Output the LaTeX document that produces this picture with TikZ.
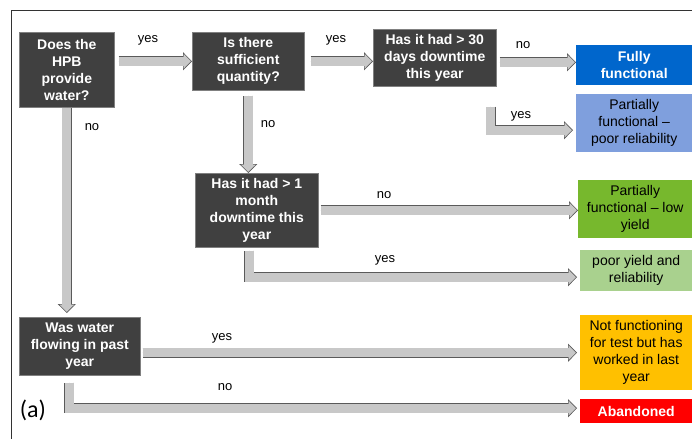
\documentclass[tikz,border=0pt]{standalone}
\usepackage{fontspec}
\setmainfont{Liberation Sans}
\newfontfamily\panelfont{Carlito}
\usetikzlibrary{arrows.meta}
\definecolor{boxgray}{HTML}{404040}
\definecolor{arrowfill}{HTML}{C8C8C8}
\definecolor{arrowedge}{HTML}{5A5A5A}
\definecolor{fullblue}{HTML}{0066CC}
\definecolor{partblue}{HTML}{7F9FDD}
\definecolor{lowgreen}{HTML}{77B82D}
\definecolor{palegreen}{HTML}{A9D18E}
\definecolor{notorange}{HTML}{FFC000}
\definecolor{abandred}{HTML}{FF0000}
\begin{document}
\begin{tikzpicture}[x=1pt,y=-1pt,
  question/.style={fill=boxgray, draw=gray, line width=0.6pt, text=white,
    font=\fontsize{14}{17}\selectfont\bfseries, align=center, anchor=north west, inner sep=0pt},
  outcome/.style={fill=#1, align=center, anchor=north west, inner sep=0pt,
    font=\fontsize{14}{17}\selectfont},
  lbl/.style={font=\fontsize{13}{15}\selectfont},
  flow/.style={
    preaction={draw=arrowedge, line width=0.6pt, shorten <=#1, shorten >=0pt,
      -{Triangle[width=18pt,length=9pt,fill=arrowfill]}},
    preaction={draw=arrowedge, line width=10.2pt, shorten <=#1, shorten >=9pt},
    draw=arrowfill, line width=9pt, shorten <=#1+0.6pt, shorten >=8pt},
  flow/.default=0pt]
\useasboundingbox (0,0) rectangle (692,439);
% frame
\draw[line width=1pt, black!80] (692,10) -- (11,10) -- (11,439);

% questions
\node[question, minimum width=95pt, minimum height=75pt] (hpb) at (19,32) {Does the\\HPB\\provide\\water?};
\node[question, minimum width=112pt, minimum height=58pt] (quantity) at (192,32) {Is there\\sufficient\\quantity?};
\node[question, minimum width=123pt, minimum height=57pt] (downtime) at (373,29) {Has it had > 30\\days downtime\\this year};
\node[question, minimum width=123pt, minimum height=74pt] (month) at (195,173) {Has it had > 1\\month\\downtime this\\year};
\node[question, minimum width=121pt, minimum height=58pt] (flowing) at (19,317) {Was water\\flowing in past\\year};

% outcomes
\node[outcome=fullblue, text=white, font=\fontsize{14}{17}\selectfont\bfseries, minimum width=116pt, minimum height=40pt] (fully) at (576,45) {Fully\\functional};
\node[outcome=partblue, minimum width=116pt, minimum height=58pt] (poorrel) at (576,94) {Partially\\functional --\\poor reliability};
\node[outcome=lowgreen, minimum width=114pt, minimum height=58pt] (lowyield) at (578,180) {Partially\\functional -- low\\yield};
\node[outcome=palegreen, minimum width=112pt, minimum height=41pt] (pooryr) at (580,250) {poor yield and\\reliability};
\node[outcome=notorange, minimum width=112pt, minimum height=75pt] (notfunc) at (580,315) {Not functioning\\for test but has\\worked in last\\year};
\node[outcome=abandred, text=white, font=\fontsize{14}{17}\selectfont\bfseries, minimum width=112pt, minimum height=24pt] (abandoned) at (580,399) {Abandoned};

% connectors
\draw[flow=4pt] (hpb.east |- quantity.west) -- (quantity.west);
\draw[flow=6pt] (quantity.east) -- (downtime.west |- quantity.east);
\coordinate (fullin) at ([yshift=-4.5pt]downtime.east);
\draw[flow=3pt] (fullin) -- (fully.west |- fullin);
\draw[flow] ([xshift=-6pt,yshift=-20pt]downtime.south east) |- ([xshift=-3pt,yshift=-7pt]poorrel.west);
\draw[flow=5pt] (quantity.south) -- (quantity.south |- month.north);
\draw[flow=2pt] (month.east) -- (lowyield.west |- month.east);
\draw[flow=3pt] ([xshift=-7.5pt]month.south) |- ([xshift=-3pt,yshift=-6.5pt]pooryr.west);
\draw[flow] (hpb.south) -- ([yshift=4pt]hpb.south |- flowing.north);
\draw[flow=2pt] (flowing.east |- notfunc.west) -- ([xshift=-3pt]notfunc.west);
\draw[flow=7pt] ([xshift=-10.5pt]flowing.south) |- ([xshift=-3pt,yshift=3pt]abandoned.west);

% labels
\node[lbl] (yesqty) at (148,40) {yes};
\node[lbl] (yesdown) at (336,40) {yes};
\node[lbl] (nofull) at (523,45) {no};
\node[lbl] (yespoor) at (521,116) {yes};
\node[lbl] (nomonth) at (268,124) {no};
\node[lbl] (noflow) at (92,127) {no};
\node[lbl] (nolow) at (384,195) {no};
\node[lbl] (yespy) at (385,260) {yes};
\node[lbl] (yesnot) at (222,338) {yes};
\node[lbl] (noaband) at (225,387) {no};
\node[font=\panelfont\fontsize{24}{28}\selectfont] (panel) at (33,410) {(a)};
\end{tikzpicture}
\end{document}
